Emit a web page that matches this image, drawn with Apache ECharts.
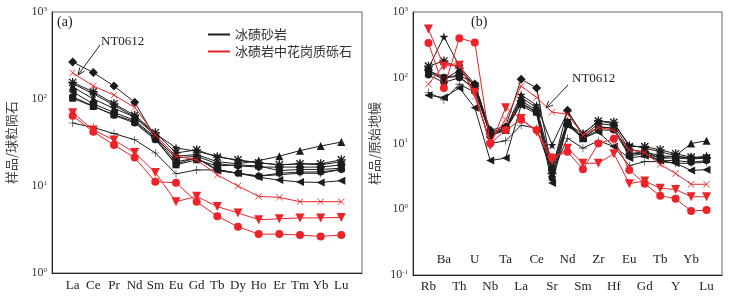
<!DOCTYPE html>
<html><head><meta charset="utf-8">
<script src="https://cdn.jsdelivr.net/npm/echarts@6/dist/echarts.min.js"></script>
<style>html,body{margin:0;padding:0;background:#fff}#c{width:732px;height:296px}</style>
</head><body><div id="c"></div>
<script>
// ---- Data: (a) chondrite-normalized REE ----
const reeCats = ['La','Ce','Pr','Nd','Sm','Eu','Gd','Tb','Dy','Ho','Er','Tm','Yb','Lu'];
const reeDiamond = [267,201,141,92,36,21,22,18,17,16.5,16.5,16.5,16.5,17.5];
const reeStar    = [150,115,85,62,40,27.5,25,22,19.5,18.5,17.5,18,17.5,19];
const reeAster   = [155,121,88,65,41,24,26,21.5,20,18.5,17.5,18,18,20];
const reeTri     = [138,100,78,62,38,22,23,19,18,19.6,22,25.5,28.8,32];
const reeCircle  = [106,83,65,53,34,18,21,15.5,14,13,14,14.5,14.5,15.5];
const reeSquare  = [102,82,66,55,35,17.5,20,17,17.5,17,15,15.5,15.5,16];
const reeLTri    = [121,88,70,57,36,19,21,15,14,12.6,11.7,11.1,11.0,11.5];
const reePlus    = [53,47,40,34,24,13.8,15.3,15.3,14,13,13.5,14,14,15.5];
const reeRedX    = [200,141,111,80,38.5,22,20,13.4,10,7.6,7.4,6.6,6.6,6.6];
const reeRedTri  = [69.5,44,33.8,24.2,14.3,6.6,7.6,5.8,4.9,4.1,4.2,4.3,4.3,4.35];
const reeRedCirc = [64,42,29.6,21.2,11.2,10.9,6.6,4.5,3.4,2.8,2.8,2.73,2.63,2.73];

// ---- Data: (b) primitive-mantle-normalized spider ----
const spCats = ['Rb','Ba','Th','U','Nb','Ta','La','Ce','Sr','Nd','Sm','Zr','Hf','Eu','Gd','Tb','Y','Yb','Lu'];
const spStar    = [140,420,150,80,15,17,55,38,9.5,30,14,22,20,9.5,8.5,7.5,6.5,6,6.5];
const spDiamond = [130,100,110,80,16,18,95,70,4,32,13,20,19,8,7.5,6.5,6.3,6,6];
const spTri     = [120,95,130,75,14,16,50,35,4.5,22,12,18,17,7,7,6,6.5,10,11];
const spAster   = [150,180,140,75,14,17,45,32,3.5,20,14,22,21,9,9,8,7,6.2,6];
const spLTri    = [54,50,70,35,5.5,6,38,28,2.5,19,12,15,9,6,6.5,5.5,5,3.9,4];
const spPlus    = [60,46,80,60,10,11,19,17,3.5,12,8.5,11,9,4.6,5.3,5.3,5,5,5.2];
const spCircle  = [110,85,100,70,13,16,42,30,3,20,12,16,16,6.5,7,5.5,5.5,5.2,5.5];
const spSquare  = [125,100,105,65,14,16,40,30,4,21,12,18,17,7,7.5,6,6,5.8,6];
const spRedX    = [80,155,165,52,10.7,23,75,50,30,28,13.5,17.5,16,8,7.3,4.8,3.5,2.4,2.4];
const spRedTri  = [550,150,155,60,9.3,35,24,15,5.5,8.5,5,5,7,2.45,2.7,2.08,2.0,1.55,1.55];
const spRedCirc = [337,70,400,345,10,16,23,16,6.2,7.5,4.05,10,11.8,3.95,2.45,1.6,1.45,0.94,0.97];

const BLACK = '#1c1c1c', RED = '#ec2329';
const NAME_B = '冰碛砂岩', NAME_R = '冰碛岩中花岗质砾石';
const SYM = {
  diamond: 'diamond',
  star: 'path://M50,0 L61,35 L98,35 L68,57 L79,91 L50,70 L21,91 L32,57 L2,35 L39,35 Z',
  aster: 'path://M8.5,0 L11.5,0 L11.5,20 L8.5,20 Z M0,8.5 L20,8.5 L20,11.5 L0,11.5 Z M1,3.1 L3.1,1 L19,16.9 L16.9,19 Z M16.9,1 L19,3.1 L3.1,19 L1,16.9 Z',
  tri: 'triangle', circle: 'circle', square: 'rect',
  plus: 'path://M9.3,0 L10.7,0 L10.7,9.3 L20,9.3 L20,10.7 L10.7,10.7 L10.7,20 L9.3,20 L9.3,10.7 L0,10.7 L0,9.3 L9.3,9.3 Z'
};
function mk(name, color, arr, sym, size, rot, xi, yi) {
  return {
    name: name, type: 'line', xAxisIndex: xi, yAxisIndex: yi,
    data: arr.map((v, i) => [i, v]),
    symbol: sym, symbolSize: size, symbolRotate: rot || 0,
    lineStyle: { color: color, width: 1 }, itemStyle: { color: color },
    showSymbol: true, animation: false, z: color === RED ? 4 : 3
  };
}
function leftSeries() {
  return [
    mk(NAME_B, BLACK, reeDiamond, SYM.diamond, 9, 0, 0, 0),
    mk(NAME_B, BLACK, reeStar, SYM.star, 9, 0, 0, 0),
    mk(NAME_B, BLACK, reeAster, SYM.aster, 9, 0, 0, 0),
    mk(NAME_B, BLACK, reeTri, SYM.tri, 8, 0, 0, 0),
    mk(NAME_B, BLACK, reeCircle, SYM.circle, 7, 0, 0, 0),
    mk(NAME_B, BLACK, reeSquare, SYM.square, 7, 0, 0, 0),
    mk(NAME_B, BLACK, reeLTri, SYM.tri, 8, 90, 0, 0),
    mk(NAME_B, BLACK, reePlus, SYM.plus, 8, 0, 0, 0),
    mk(NAME_R, RED, reeRedX, SYM.plus, 9, 45, 0, 0),
    mk(NAME_R, RED, reeRedTri, SYM.tri, 9, 180, 0, 0),
    mk(NAME_R, RED, reeRedCirc, SYM.circle, 8, 0, 0, 0)
  ];
}
function rightSeries() {
  return [
    mk(NAME_B, BLACK, spStar, SYM.star, 9, 0, 2, 1),
    mk(NAME_B, BLACK, spDiamond, SYM.diamond, 9, 0, 2, 1),
    mk(NAME_B, BLACK, spTri, SYM.tri, 8, 0, 2, 1),
    mk(NAME_B, BLACK, spAster, SYM.aster, 9, 0, 2, 1),
    mk(NAME_B, BLACK, spLTri, SYM.tri, 8, 90, 2, 1),
    mk(NAME_B, BLACK, spPlus, SYM.plus, 8, 0, 2, 1),
    mk(NAME_B, BLACK, spCircle, SYM.circle, 7, 0, 2, 1),
    mk(NAME_B, BLACK, spSquare, SYM.square, 7, 0, 2, 1),
    mk(NAME_R, RED, spRedX, SYM.plus, 9, 45, 2, 1),
    mk(NAME_R, RED, spRedTri, SYM.tri, 9, 180, 2, 1),
    mk(NAME_R, RED, spRedCirc, SYM.circle, 8, 0, 2, 1)
  ];
}
const SERIF = 'Liberation Serif';
const CJK = 'Noto Sans CJK SC';
const powRich = {
  b: { fontFamily: SERIF, fontSize: 12, color: '#333' },
  s: { fontFamily: SERIF, fontSize: 7, color: '#333', verticalAlign: 'top', padding: [0, 0, 6, 0] }
};
function powFmt(v) { return '{b|10}{s|' + Math.round(Math.log10(v)) + '}'; }
const axisLineStyle = { show: true, onZero: false, lineStyle: { color: '#222', width: 1 } };
function ylog(grid, min, max, name, gap) {
  return {
    type: 'log', logBase: 10, gridIndex: grid, min: min, max: max,
    axisLine: axisLineStyle, axisTick: { show: false }, splitLine: { show: false },
    axisLabel: { formatter: powFmt, rich: powRich, margin: 5 },
    name: name, nameLocation: 'middle', nameRotate: 90, nameGap: gap,
    nameTextStyle: { fontFamily: CJK, fontSize: 13, color: '#444' }
  };
}
const option = {
  animation: false,
  grid: [
    { left: 52, right: 370, top: 12, bottom: 23, show: true, borderColor: '#666', borderWidth: 1 },
    { left: 413, right: 10, top: 12, bottom: 21, show: true, borderColor: '#666', borderWidth: 1 }
  ],
  legend: {
    left: 203, top: 23, orient: 'vertical', itemGap: 4,
    itemWidth: 22, itemHeight: 2, icon: 'rect',
    data: [NAME_B, NAME_R],
    textStyle: { fontFamily: CJK, fontSize: 13, color: '#333' },
    selectedMode: false
  },
  xAxis: [
    { type: 'value', gridIndex: 0, min: -1, max: 14, interval: 1,
      axisLine: axisLineStyle, axisTick: { show: false }, splitLine: { show: false },
      axisLabel: { formatter: v => reeCats[v] || '', fontFamily: SERIF, fontSize: 13, color: '#222', margin: 6 } },
    { type: 'value', gridIndex: 0, min: -1, max: 14, show: false },
    { type: 'value', gridIndex: 1, position: 'bottom', min: -1, max: 19, interval: 1,
      axisLine: axisLineStyle, axisTick: { show: false }, splitLine: { show: false },
      axisLabel: { formatter: v => (v % 2 === 0 ? (spCats[v] || '') : ''), fontFamily: SERIF, fontSize: 13, color: '#222', margin: 5 } },
    { type: 'value', gridIndex: 1, position: 'bottom', min: -1, max: 19, interval: 1,
      axisLine: { show: false }, axisTick: { show: false }, splitLine: { show: false },
      axisLabel: { inside: true, formatter: v => (Math.abs(v % 2) === 1 ? (spCats[v] || '') : ''), fontFamily: SERIF, fontSize: 13, color: '#222', margin: 9 } }
  ],
  yAxis: [
    ylog(0, 1, 1000, '样品/球粒陨石', 34),
    ylog(1, 0.1, 1000, '样品/原始地幔', 32)
  ],
  graphic: [
    { type: 'text', left: 57, top: 15, style: { text: '(a)', font: '14px "Liberation Serif"', fill: '#222' } },
    { type: 'text', left: 101, top: 35, style: { text: 'NT0612', font: '13px "Liberation Serif"', fill: '#222' } },
    { type: 'line', shape: { x1: 100, y1: 45, x2: 78, y2: 75 }, style: { stroke: '#222', lineWidth: 1 } },
    { type: 'polyline', shape: { points: [[84.5, 71.1], [78, 75], [79.7, 67.5]] }, style: { stroke: '#222', lineWidth: 1, fill: null } },
    { type: 'text', left: 471, top: 15, style: { text: '(b)', font: '14px "Liberation Serif"', fill: '#222' } },
    { type: 'text', left: 572, top: 72, style: { text: 'NT0612', font: '13px "Liberation Serif"', fill: '#222' } },
    { type: 'line', shape: { x1: 568, y1: 85, x2: 546, y2: 108 }, style: { stroke: '#222', lineWidth: 1 } },
    { type: 'polyline', shape: { points: [[553, 105], [546, 108], [548.6, 100.8]] }, style: { stroke: '#222', lineWidth: 1, fill: null } }
  ],
  series: leftSeries().concat(rightSeries())
};
const chart = echarts.init(document.getElementById('c'), null, { renderer: 'canvas' });
chart.setOption(option);
</script></body></html>
